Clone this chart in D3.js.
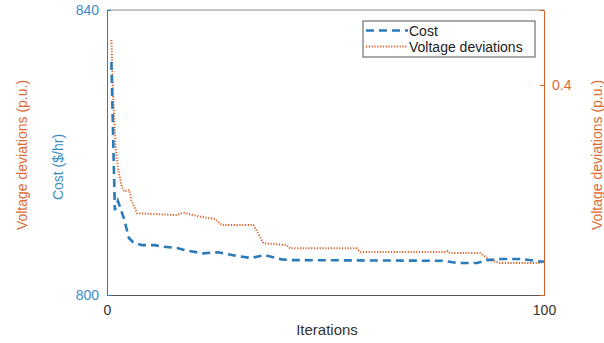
<!DOCTYPE html>
<html><head><meta charset="utf-8">
<script src="https://cdn.jsdelivr.net/npm/d3@7"></script>
<style>body{margin:0;background:#fff}svg{display:block}text{font-family:"Liberation Sans",Arial,sans-serif}</style>
</head><body><svg id="c" width="604" height="343"></svg>
<script>
// Data
const costIter = [1, 1.8, 2.5, 4, 5, 6, 8, 11, 12.5, 16, 18.5, 22, 25.4, 29.5, 33, 36, 40, 42.6, 77, 80, 84.7, 87, 90, 95, 99, 100];
const costVal  = [832.7, 811.9, 813.2, 810.5, 808.0, 807.4, 807.0, 807.0, 806.8, 806.6, 806.2, 805.85, 806.0, 805.5, 805.2, 805.6, 805.0, 804.9, 804.8, 804.5, 804.5, 804.9, 805.05, 805.05, 804.7, 804.7];
const voltIter = [1, 1.45, 2, 2.6, 3.4, 3.9, 5.1, 5.6, 6.9, 15.9, 17.5, 21.3, 24.7, 26.2, 33.5, 35.8, 41.1, 41.9, 57.1, 58, 77.7, 78, 78.5, 85.4, 87.6, 90, 99, 100];
const voltVal  = [0.430, 0.390, 0.357, 0.343, 0.332, 0.329, 0.330, 0.323, 0.3145, 0.3133, 0.3149, 0.3122, 0.3107, 0.3067, 0.3067, 0.2945, 0.2933, 0.2911, 0.2911, 0.2887, 0.2887, 0.2893, 0.288, 0.288, 0.2833, 0.2813, 0.2813, 0.282];
const xTicks = [0, 100];
const yLeftTicks = [800, 840];
const yRightTicks = [0.4];
const seriesNames = ["Cost", "Voltage deviations"];

const blue = "#2b7bba", orange = "#d9622b", blueTxt = "#3b8cc4", orangeTxt = "#dc6a33";
const svg = d3.select("#c");
const L = 107, R = 544, T = 10, B = 295;
const x = d3.scaleLinear().domain([0, 100]).range([L, R]);
const yL = d3.scaleLinear().domain([800, 840]).range([B, T]);
const yR = d3.scaleLinear().domain([0.26, 0.45]).range([B, T]);

// frame top
svg.append("line").attr("x1", L).attr("x2", R).attr("y1", T).attr("y2", T).attr("stroke", "#888").attr("stroke-width", 1);

const fs = 14;
// bottom axis
const gx = svg.append("g").attr("transform", `translate(0,${B})`)
  .call(d3.axisBottom(x).tickValues(xTicks).tickSize(-4).tickPadding(10).tickFormat(d3.format("d")));
gx.select(".domain").attr("stroke", "#555");
gx.selectAll(".tick line").attr("stroke", "#555");
gx.selectAll("text").attr("font-size", fs).attr("fill", "#333");

// left axis
const gl = svg.append("g").attr("transform", `translate(${L},0)`)
  .call(d3.axisLeft(yL).tickValues(yLeftTicks).tickSize(-4).tickPadding(8));
gl.select(".domain").attr("stroke", blue);
gl.selectAll(".tick line").attr("stroke", blue);
gl.selectAll("text").attr("font-size", fs).attr("fill", blueTxt);

// right axis
const gr = svg.append("g").attr("transform", `translate(${R},0)`)
  .call(d3.axisRight(yR).tickValues(yRightTicks).tickSize(-4).tickPadding(8).tickFormat(d3.format(".1f")));
gr.select(".domain").attr("stroke", orange);
gr.selectAll(".tick line").attr("stroke", orange);
gr.selectAll("text").attr("font-size", fs).attr("fill", orangeTxt);

// axis labels
svg.append("text").attr("x", 327).attr("y", 335).attr("text-anchor", "middle").attr("font-size", 15).attr("fill", "#333").text("Iterations");
svg.append("text").attr("transform", "translate(63,167) rotate(-90)").attr("text-anchor", "middle").attr("font-size", 14).attr("fill", blueTxt).text("Cost ($/hr)");
svg.append("text").attr("transform", "translate(27,155) rotate(-90)").attr("text-anchor", "middle").attr("font-size", 14).attr("fill", orangeTxt).text("Voltage deviations (p.u.)");
svg.append("text").attr("transform", "translate(602,155) rotate(-90)").attr("text-anchor", "middle").attr("font-size", 14).attr("fill", orangeTxt).text("Voltage deviations (p.u.)");

// lines
const costData = costIter.map((d, i) => [d, costVal[i]]);
const voltData = voltIter.map((d, i) => [d, voltVal[i]]);
svg.append("path").datum(voltData)
  .attr("d", d3.line().x(d => x(d[0])).y(d => yR(d[1])))
  .attr("fill", "none").attr("stroke", orange).attr("stroke-width", 2).attr("stroke-dasharray", "1.2,1.6");
svg.append("path").datum(costData)
  .attr("d", d3.line().x(d => x(d[0])).y(d => yL(d[1])))
  .attr("fill", "none").attr("stroke", blue).attr("stroke-width", 2.6).attr("stroke-dasharray", "8,5");

// legend
const lg = svg.append("g");
lg.append("rect").attr("x", 363).attr("y", 21).attr("width", 172).attr("height", 36).attr("fill", "#fff").attr("stroke", "#555").attr("stroke-width", 1);
lg.append("line").attr("x1", 366).attr("x2", 408).attr("y1", 30.5).attr("y2", 30.5).attr("stroke", blue).attr("stroke-width", 2.6).attr("stroke-dasharray", "8,5");
lg.append("line").attr("x1", 366).attr("x2", 408).attr("y1", 46.5).attr("y2", 46.5).attr("stroke", orange).attr("stroke-width", 2).attr("stroke-dasharray", "1.2,1.6");
lg.append("text").attr("x", 409).attr("y", 35.5).attr("font-size", 14).attr("fill", "#222").text(seriesNames[0]);
lg.append("text").attr("x", 409).attr("y", 51.5).attr("font-size", 14).attr("fill", "#222").text(seriesNames[1]);
</script></body></html>
